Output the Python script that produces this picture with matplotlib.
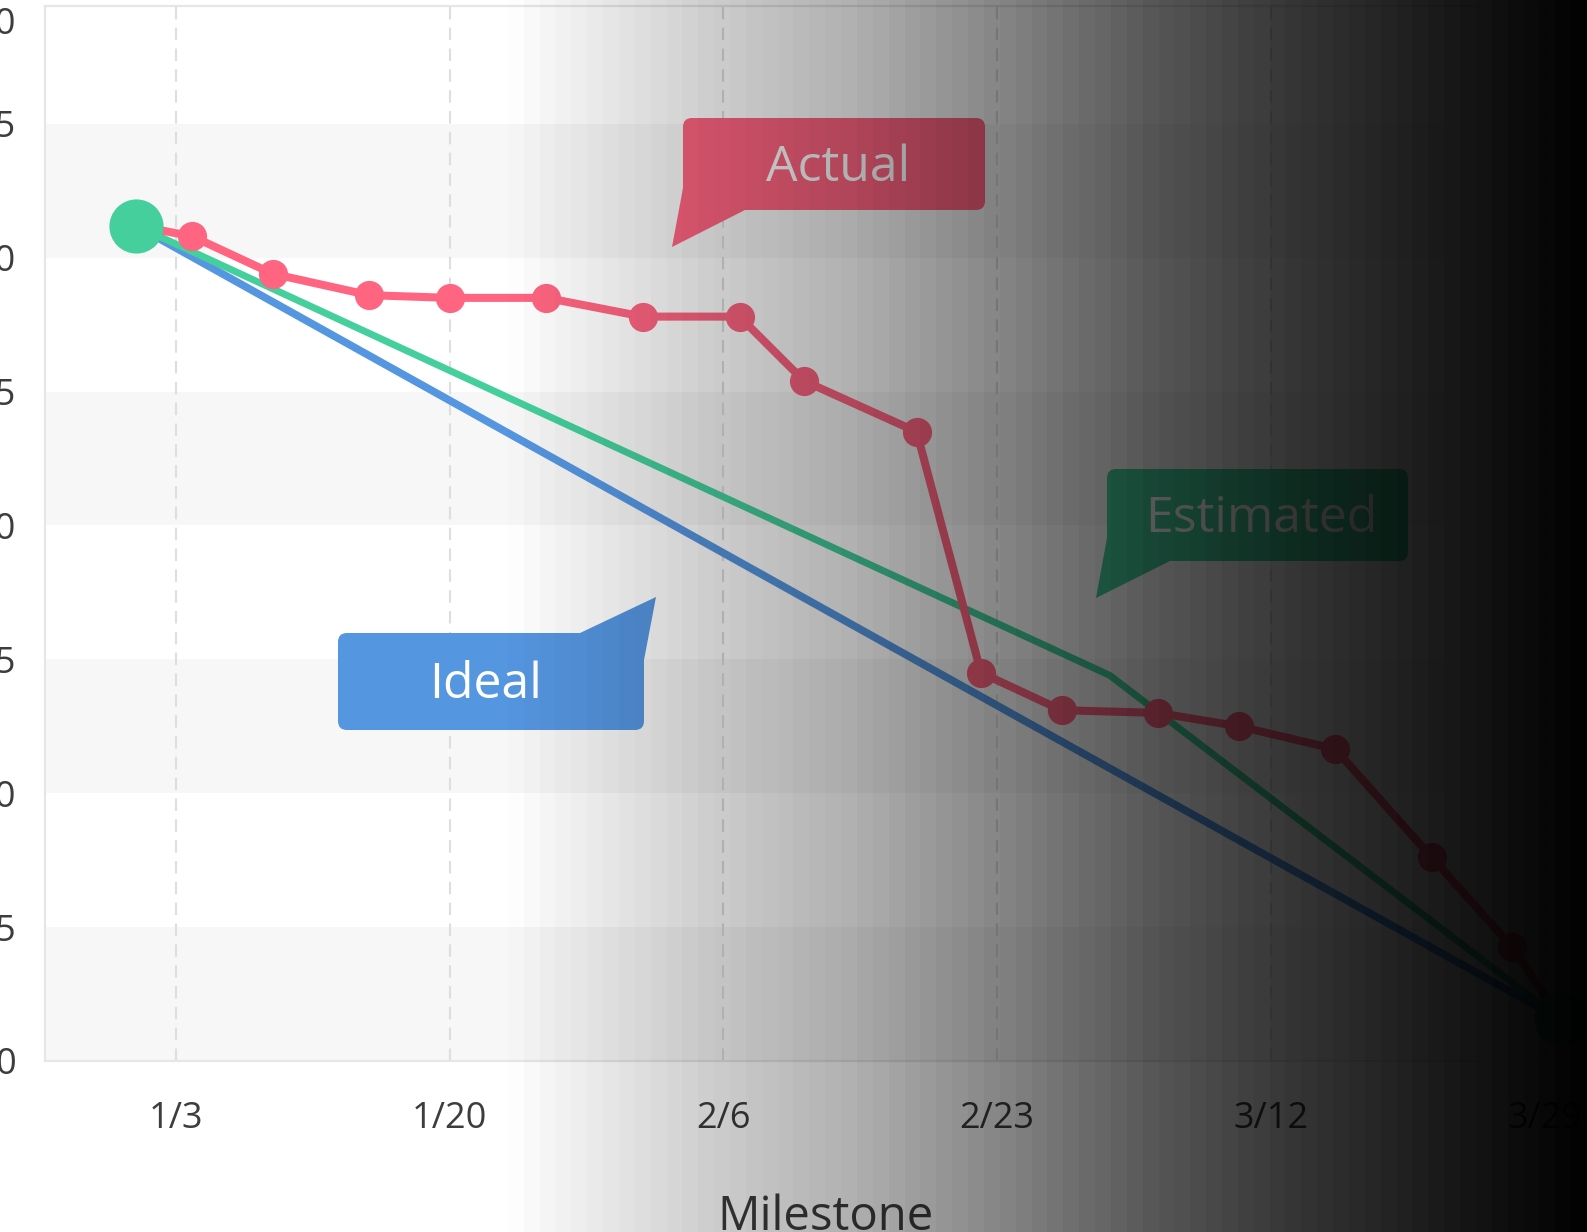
import matplotlib
matplotlib.use('Agg')
import matplotlib.pyplot as plt
import matplotlib.dates as mdates
from matplotlib.patches import FancyBboxPatch, Polygon
from matplotlib.transforms import Affine2D
import numpy as np
import pandas as pd

# ---------------- data ----------------
actual_dates = ['2022-12-31 12:00', '2023-01-04', '2023-01-09', '2023-01-15', '2023-01-20',
                '2023-01-26', '2023-02-01', '2023-02-07', '2023-02-11', '2023-02-18',
                '2023-02-22', '2023-02-27', '2023-03-05', '2023-03-10', '2023-03-16',
                '2023-03-22', '2023-03-27', '2023-03-30']
actual_values = [31.2, 30.8, 29.4, 28.6, 28.5, 28.5, 27.8, 27.8, 25.4, 23.5,
                 14.5, 13.1, 13.0, 12.5, 11.65, 7.6, 4.25, 1.55]

estimated_dates = ['2022-12-31 12:00', '2023-03-02', '2023-03-30']
estimated_values = [31.2, 14.4, 1.55]

ideal_dates = ['2022-12-31 12:00', '2023-03-30']
ideal_values = [31.2, 1.55]

milestone_dates = ['2022-12-31 12:00', '2023-03-30']
milestone_values = [31.2, 1.55]

xtick_dates = ['2023-01-03', '2023-01-20', '2023-02-06', '2023-02-23', '2023-03-12', '2023-03-29']
xtick_labels = ['1/3', '1/20', '2/6', '2/23', '3/12', '3/29']
ytick_values = [0, 5, 10, 15, 20, 25, 30, 35]
ytick_labels = ['0', '5', '10', '15', '20', '25', '30', '35']
ymax_label = '40'
band_ranges = [(0, 5), (10, 15), (20, 25), (30, 35)]

series_labels = ['Actual', 'Estimated', 'Ideal']

# ---------------- style ----------------
RED = '#FF6481'
GREEN = '#44CF9C'
BLUE = '#5596E0'
TXT = '#3d3d3d'

plt.rcParams['font.family'] = ['Open Sans', 'DejaVu Sans']

W, H = 1587, 1232
fig = plt.figure(figsize=(W / 100, H / 100), dpi=100)
fig.patch.set_facecolor('white')

AX_TOP, AX_BOT = 6, 1061
ax = fig.add_axes([45 / W, (H - AX_BOT) / H, (1625 - 45) / W, (AX_BOT - AX_TOP) / H])
ax.set_facecolor('white')


def to_num(ds):
    return mdates.date2num(pd.to_datetime(ds, format='ISO8601'))


x0 = to_num(['2023-01-03'])[0]
ax.set_xlim(x0 - 8.14, x0 + 90.0)
YTOP = 39.4
ax.set_ylim(0, YTOP)

for lo, hi in band_ranges:
    ax.axhspan(lo, hi, color='#f7f7f7', zorder=0, lw=0)

ax.set_xticks(to_num(xtick_dates))
ax.set_xticklabels(xtick_labels)
# the top (max) label sits just inside the top edge of the plot area
top_label_pos = YTOP - 14 / ((AX_BOT - AX_TOP) / YTOP)
ax.set_yticks(ytick_values + [top_label_pos])
ax.set_yticklabels(ytick_labels + [ymax_label])
ax.grid(axis='x', color='#dedede', lw=1.5, ls=(0, (6, 4)), zorder=0.5)
ax.grid(axis='y', visible=False)
ax.tick_params(axis='both', length=0, labelsize=26, colors=TXT)
ax.tick_params(axis='y', pad=21)
ax.tick_params(axis='x', pad=29)
ax.get_yticklabels()[0].set_verticalalignment('center_baseline')

for s in ['top', 'left', 'bottom']:
    ax.spines[s].set_color('#e6e6e6')
    ax.spines[s].set_linewidth(1.6)
ax.spines['right'].set_visible(False)

ax.set_xlabel('Milestone', fontsize=34, color=TXT, va='top')
ax.xaxis.set_label_coords(0.4937, -(1194 - AX_BOT) / (AX_BOT - AX_TOP))

# lines
ax.plot(to_num(ideal_dates), ideal_values, color=BLUE, lw=5.5, zorder=2,
        solid_capstyle='round')
ax.plot(to_num(estimated_dates), estimated_values, color=GREEN, lw=5.0, zorder=3,
        solid_capstyle='round', solid_joinstyle='round')
ax.plot(to_num(actual_dates), actual_values, color=RED, lw=5.8, zorder=4,
        marker='o', markersize=20, markevery=slice(1, len(actual_values) - 1),
        solid_joinstyle='round')
ax.plot(to_num(milestone_dates), milestone_values, ls='none', marker='o',
        markersize=38, color=GREEN, zorder=5, clip_on=False)

# ---------------- callouts (pixel coords, y down) ----------------
pix = Affine2D().scale(1 / W, -1 / H).translate(0, 1) + fig.transFigure

callouts = [
    # label, color, box (x0, y0, x1, y1), tail triangle, text offset
    (series_labels[0], RED, (683, 118, 985, 210), [(683, 188), (672, 247), (745, 210)], (4, 4)),
    (series_labels[1], GREEN, (1107, 469, 1408, 561), [(1107, 538), (1096, 598), (1170, 561)], (4, 4)),
    (series_labels[2], BLUE, (338, 633, 644, 730), [(580, 633), (656, 597), (644, 660)], (-5, 4)),
]
for label, col, (bx0, by0, bx1, by1), tail, (dx, dy) in callouts:
    box = FancyBboxPatch((bx0, by0), bx1 - bx0, by1 - by0,
                         boxstyle='round,pad=0,rounding_size=9',
                         transform=pix, facecolor=col, edgecolor='none', zorder=6)
    fig.add_artist(box)
    tri = Polygon(tail, closed=True, transform=pix, facecolor=col,
                  edgecolor='none', zorder=6)
    fig.add_artist(tri)
    fig.text(((bx0 + bx1) / 2 + dx) / W, 1 - ((by0 + by1) / 2 + dy) / H, label,
             ha='center', va='center', fontsize=36, color='white', zorder=7)

# ---------------- dark gradient overlay ----------------
grad_x = [0, 505, 600, 714, 850, 1000, 1150, 1300, 1450, 1587]
grad_b = [1, 1, 0.91, 0.8, 0.69, 0.52, 0.34, 0.2, 0.09, 0.0]
ncols = 100
centers = (np.arange(ncols) + 0.5) * W / ncols
bright = np.interp(centers, grad_x, grad_b)
rgba = np.zeros((1, ncols, 4))
rgba[..., 3] = 1 - bright
ov = fig.add_axes([0, 0, 1, 1], zorder=100)
ov.imshow(rgba, aspect='auto', extent=[0, 1, 0, 1], interpolation='nearest')
ov.set_xlim(0, 1)
ov.set_ylim(0, 1)
ov.axis('off')
ov.patch.set_alpha(0)

fig.savefig('out.png', dpi=100)
